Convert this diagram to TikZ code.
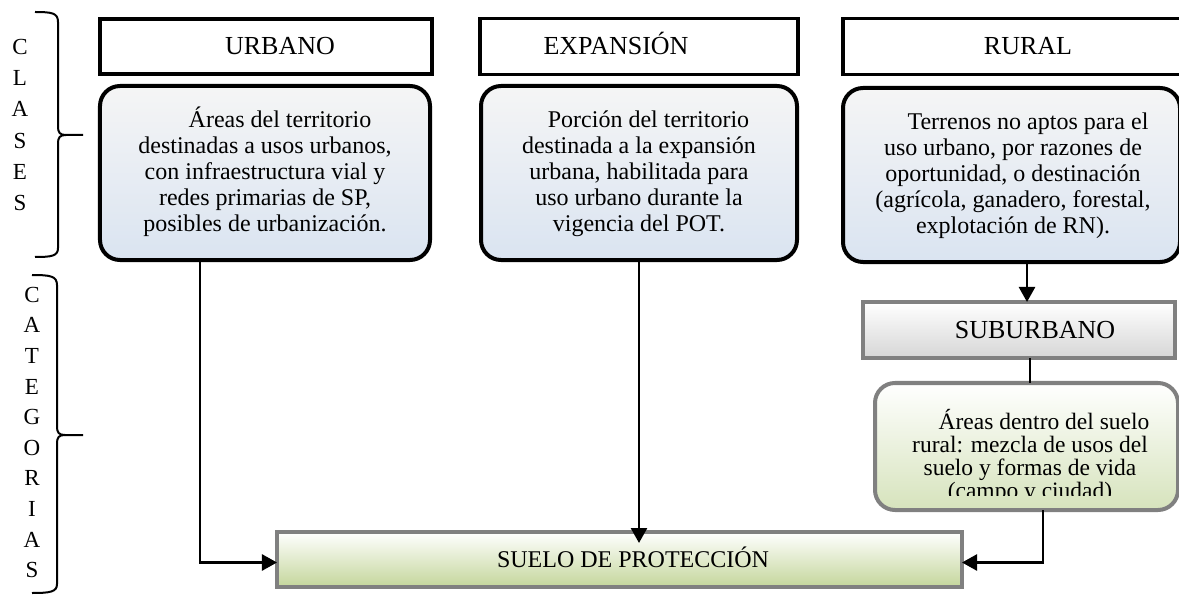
\documentclass[tikz,border=0pt]{standalone}
\usepackage{fontspec}
\setmainfont{Liberation Serif}
\usetikzlibrary{arrows.meta}
\definecolor{bluebot}{RGB}{218,228,241}
\definecolor{bluetop}{RGB}{245,245,245}
\definecolor{greenbot}{RGB}{196,214,155}
\definecolor{lgreenbot}{RGB}{214,227,188}
\definecolor{graybot}{RGB}{214,214,214}
\definecolor{bordergray}{RGB}{128,128,128}
\newcommand{\hdrfnt}{\fontsize{26bp}{30bp}\selectfont}
\newcommand{\suelofnt}{\fontsize{24bp}{28bp}\selectfont}
\newcommand{\bodyfnt}{\fontsize{24bp}{26bp}\selectfont}
\newcommand{\greenfnt}{\fontsize{23.5bp}{23bp}\selectfont}
\newcommand{\sidefntA}{\fontsize{23bp}{31.2bp}\selectfont}
\newcommand{\sidefntB}{\fontsize{23bp}{30.6bp}\selectfont}
\tikzset{
  hdrbox/.style={draw=black, line width=3.8bp, fill=white, rectangle, inner sep=0pt, outer sep=0pt,
    font=\hdrfnt, text height=17bp, text depth=0bp},
  descbox/.style={draw=black, line width=4bp, rounded corners=20bp, inner sep=0pt, outer sep=0pt,
    top color=bluetop, bottom color=bluebot},
  graybox/.style={draw=bordergray, line width=4bp, rectangle, inner sep=0pt, outer sep=0pt,
    top color=white, bottom color=graybot, font=\hdrfnt, text height=17bp, text depth=0bp},
  greenrbox/.style={draw=bordergray, line width=4bp, rounded corners=20bp, inner sep=0pt, outer sep=0pt,
    top color=white, bottom color=lgreenbot},
  suelobox/.style={draw=bordergray, line width=4bp, rectangle, inner sep=0pt, outer sep=0pt,
    top color=white, bottom color=greenbot, font=\suelofnt, text height=16.5bp, text depth=0bp},
  txt/.style={align=center, font=\bodyfnt, inner sep=0pt},
  side/.style={align=center, inner sep=0pt},
  brc/.style={line width=2bp, draw=black},
  conn/.style={line width=2.5bp, draw=black},
  arr/.style={conn, -{Triangle[length=15bp,width=16bp]}},
}
\begin{document}
\begin{tikzpicture}[x=1bp,y=-1bp]
\useasboundingbox (0,0) rectangle (1179,595);

% side labels
\node[side, font=\sidefntA] (clases) at (20,125) {C\\L\\A\\S\\E\\S};
\node[side, font=\sidefntB] (categ) at (32,432.5) {C\\A\\T\\E\\G\\O\\R\\I\\A\\S};

% braces
\draw[brc] (35,12) .. controls (52,12) and (58,13) .. (58,22) -- (58,126)
  .. controls (58,133) and (60,135) .. (66,135) -- (83,135);
\draw[brc] (66,135) .. controls (60,135) and (58,137) .. (58,144) -- (58,248)
  .. controls (58,256) and (52,257) .. (35,257);
\draw[brc] (32,275) .. controls (50,275) and (57,276) .. (57,285) -- (57,426)
  .. controls (57,433) and (59,435) .. (65,435) -- (83,435);
\draw[brc] (65,435) .. controls (59,435) and (57,437) .. (57,444) -- (57,584)
  .. controls (57,592) and (50,593) .. (32,593);

% headers
\node[hdrbox, minimum width=332bp, minimum height=55bp] (uh) at (266,46.5) {\hspace*{28bp}URBANO};
\node[hdrbox, minimum width=318bp, minimum height=56bp] (eh) at (639,46.5) {EXPANSIÓN\hspace*{46bp}};
\node[hdrbox, minimum width=342bp, minimum height=56bp] (rh) at (1014,46.5) {\hspace*{28bp}RURAL};

% description boxes
\node[descbox, minimum width=330bp, minimum height=174bp] (ud) at (265,173) {};
\node[descbox, minimum width=316bp, minimum height=174bp] (ed) at (639,173) {};
\node[descbox, minimum width=337bp, minimum height=174bp] (rd) at (1011.5,175) {};

\node[txt] (ut) at (265,172) {\hspace*{30bp}Áreas del territorio\\destinadas a usos urbanos,\\con infraestructura vial y\\redes primarias de SP,\\posibles de urbanización.};
\node[txt] (et) at (639,174) {\hspace*{19bp}Porción del territorio\\destinada a la expansión\\urbana, habilitada para\\uso urbano durante la\\vigencia del POT.};
\node[txt] (rt) at (1013,176) {\hspace*{30bp}Terrenos no aptos para el\\uso urbano, por razones de\\oportunidad, o destinación\\(agrícola, ganadero, forestal,\\explotación de RN).};

% suburbano
\node[graybox, minimum width=312bp, minimum height=56bp] (sub) at (1019,330) {\hspace*{32bp}SUBURBANO};
\node[greenrbox, minimum width=303bp, minimum height=127bp] (gd) at (1026.5,446.5) {};
\begin{scope}
\clip (860,385) rectangle (1180,495);
\node[txt, font=\greenfnt] (gt) at (1030,456.5) {\hspace*{28bp}Áreas dentro del suelo\\rural: mezcla de usos del\\suelo y formas de vida\\(campo y ciudad)};
\end{scope}

% suelo de proteccion
\node[suelobox, minimum width=685bp, minimum height=55bp] (suelo) at (619.5,559.5) {\hspace*{27bp}SUELO DE PROTECCIÓN};

% connectors
\draw[arr] ([xshift=-65bp]ud.south) |- ([yshift=-3bp]suelo.west);
\draw[arr, shorten >=-11bp] (ed.south) -- (ed.south |- suelo.north);
\draw[arr] ([xshift=15.5bp]rd.south) -- ([xshift=15.5bp]rd.south |- sub.north);
\draw[conn] ([xshift=11bp]sub.south) -- ([xshift=11bp]sub.south |- gd.north);
\draw[arr] ([xshift=16.5bp]gd.south) |- ([yshift=-3bp]suelo.east);
\end{tikzpicture}
\end{document}
